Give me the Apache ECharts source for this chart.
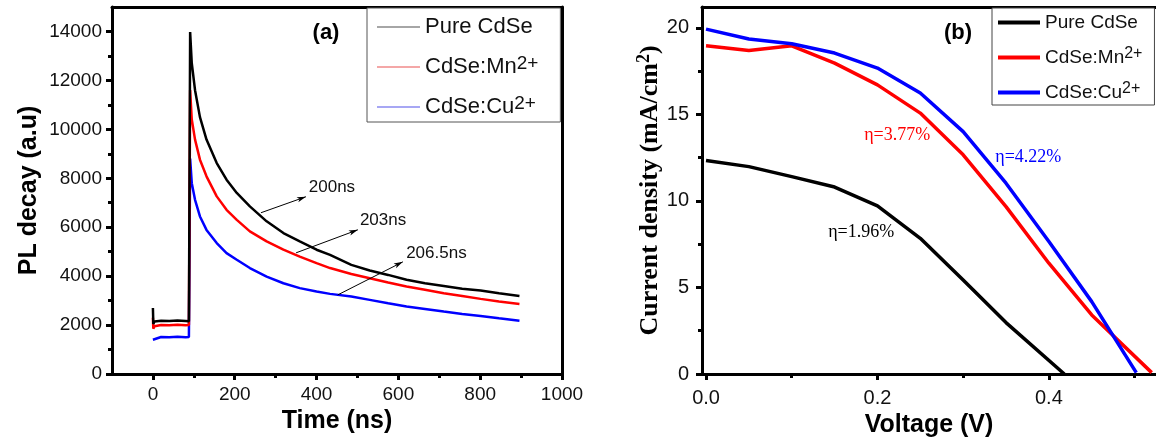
<!DOCTYPE html>
<html>
<head>
<meta charset="utf-8">
<style>
  html, body { margin: 0; background: #fff; }
  #container { width: 1156px; height: 447px; }
</style>
</head>
<body>
<div id="container"></div>
<script src="https://cdn.jsdelivr.net/npm/echarts@6/dist/echarts.min.js"></script>
<script>
// ---- (a) PL decay ----
var time   = [0, 1, 4, 20, 40, 60, 80, 88, 89, 91, 95, 103, 115, 131, 156, 180, 205, 237, 278, 319, 359, 400, 433, 485, 530, 575, 620, 665, 711, 756, 801, 846, 896];
var plPure = [2700, 2050, 2150, 2180, 2170, 2190, 2170, 2160, 2150, 13980, 12700, 11600, 10500, 9580, 8620, 7940, 7400, 6850, 6240, 5760, 5420, 5080, 4870, 4460, 4230, 4050, 3850, 3710, 3600, 3480, 3410, 3300, 3190];
var plMn   = [2300, 1850, 1950, 2000, 1990, 2010, 1990, 2000, 2000, 11600, 10400, 9580, 8760, 8080, 7260, 6710, 6300, 5830, 5420, 5080, 4800, 4530, 4330, 4090, 3915, 3740, 3575, 3440, 3300, 3190, 3070, 2960, 2865];
var plCu   = [1400, 1450, 1480, 1510, 1500, 1520, 1500, 1510, 1500, 8800, 7800, 7120, 6440, 5890, 5350, 4940, 4670, 4330, 3980, 3710, 3510, 3370, 3275, 3165, 3030, 2890, 2755, 2660, 2550, 2455, 2375, 2280, 2180];

// ---- (b) J-V curves ----
var vPure = [0, 0.05, 0.1, 0.15, 0.2, 0.25, 0.3, 0.35, 0.418];
var jPure = [12.33, 11.98, 11.4, 10.8, 9.71, 7.84, 5.43, 2.97, 0];
var vMn   = [0, 0.05, 0.1, 0.15, 0.2, 0.25, 0.3, 0.35, 0.4, 0.45, 0.52];
var jMn   = [18.96, 18.69, 18.96, 17.96, 16.7, 15.07, 12.66, 9.67, 6.4, 3.41, 0.08];
var vCu   = [0, 0.05, 0.1, 0.15, 0.2, 0.25, 0.3, 0.35, 0.4, 0.45, 0.502];
var jCu   = [19.92, 19.35, 19.08, 18.54, 17.67, 16.23, 14.0, 11.02, 7.65, 4.18, 0.08];

// ticks
var timeTicks = [0, 200, 400, 600, 800, 1000];
var timeMinor = [100, 300, 500, 700, 900];
var plTicks   = [0, 2000, 4000, 6000, 8000, 10000, 12000, 14000];
var plMinor   = [1000, 3000, 5000, 7000, 9000, 11000, 13000];
var voltTicks = [0, 0.2, 0.4];
var voltMinor = [0.1, 0.3, 0.5];
var jTicks    = [0, 5, 10, 15, 20];
var jMinor    = [2.5, 7.5, 12.5, 17.5];

// annotations (data units)
var arrows = [[[264, 6590], [374, 7245]], [[350, 4953], [501, 5894]], [[452, 3234], [611, 4584]]];
var tauNotes = [['200ns', 381, 7614], ['203ns', 506, 6263], ['206.5ns', 619, 4953]];
var etaNotes = [['η=1.96%', 0.181, 8.2, '#000'], ['η=3.77%', 0.223, 13.8, '#f00'], ['η=4.22%', 0.376, 12.5, '#00f']];

var SANS = '"Liberation Sans", Arial, sans-serif';
var SERIF = '"Liberation Serif", "Times New Roman", serif';

function zip(xs, ys) {
  return xs.map(function (x, i) { return [x, ys[i]]; });
}

function legendLabel(name) {
  var base = name.replace(' (J-V)', '');
  var m = base.match(/^(.*?)(\d\+)$/);
  return m ? '{t|' + m[1] + '}{s|' + m[2] + '}' : '{t|' + base + '}';
}

var dom = document.getElementById('container');
var myChart = echarts.init(dom, null, { renderer: 'canvas' });

function mainAxis(grid, pos, min, max, ticks, fmt, fontSize, margin, name, nameGap, nameStyle) {
  return {
    gridIndex: grid, type: 'value', position: pos, min: min, max: max,
    axisLine: { onZero: false, lineStyle: { color: '#000', width: 3 } },
    axisTick: { customValues: ticks, length: 6, lineStyle: { color: '#000', width: 3 } },
    axisLabel: { customValues: ticks, formatter: fmt, fontSize: fontSize, color: '#111', margin: margin, fontFamily: SANS },
    splitLine: { show: false },
    name: name, nameLocation: 'middle', nameGap: nameGap, nameTextStyle: nameStyle
  };
}
function minorAxis(grid, pos, min, max, ticks) {
  return {
    gridIndex: grid, type: 'value', position: pos, min: min, max: max,
    axisLine: { show: false, onZero: false },
    axisTick: { customValues: ticks, length: 4, lineStyle: { color: '#000', width: 3 } },
    axisLabel: { show: false }, splitLine: { show: false }
  };
}
function frameAxis(grid, pos, min, max) {
  return {
    gridIndex: grid, type: 'value', position: pos, min: min, max: max,
    axisLine: { onZero: false, lineStyle: { color: '#000', width: 3 } },
    axisTick: { show: false }, axisLabel: { show: false }, splitLine: { show: false }
  };
}

function plain(v) { return String(v); }
function oneDec(v) { return v.toFixed(1); }

var boldName = { fontSize: 25, fontWeight: 'bold', color: '#000', fontFamily: SANS };

var option = {
  animation: false,
  backgroundColor: '#fff',
  grid: [
    { left: 112, right: 594, top: 7, bottom: 73 },
    { left: 702, right: 0, top: 7, bottom: 73 }
  ],
  xAxis: [
    mainAxis(0, 'bottom', -100, 1000, timeTicks, plain, 19, 11, 'Time (ns)', 32, boldName),
    frameAxis(0, 'top', -100, 1000),
    minorAxis(0, 'bottom', -100, 1000, timeMinor),
    mainAxis(1, 'bottom', -0.0047, 0.525, voltTicks, oneDec, 20, 14, 'Voltage (V)', 32, boldName),
    frameAxis(1, 'top', -0.0047, 0.525),
    minorAxis(1, 'bottom', -0.0047, 0.525, voltMinor)
  ],
  yAxis: [
    mainAxis(0, 'left', 0, 15000, plTicks, plain, 19, 10, 'PL decay (a.u)', 70, boldName),
    frameAxis(0, 'right', 0, 15000),
    minorAxis(0, 'left', 0, 15000, plMinor),
    mainAxis(1, 'left', 0, 21.2, jTicks, plain, 20, 13, '{a|Current density (mA/cm}{s|2}{a|)}', 36, {
      rich: {
        a: { fontSize: 26, fontWeight: 'bold', fontFamily: SERIF, color: '#000', lineHeight: 30 },
        s: { fontSize: 18, fontWeight: 'bold', fontFamily: SERIF, color: '#000', lineHeight: 18, verticalAlign: 'top' }
      }
    }),
    minorAxis(1, 'left', 0, 21.2, jMinor)
  ],
  legend: [
    {
      left: 367, top: 8, orient: 'vertical', icon: 'rect',
      itemWidth: 43, itemHeight: 1.5, itemGap: 16,
      padding: [8, 22, 4, 10],
      borderColor: '#555', borderWidth: 1, backgroundColor: '#fff',
      data: [
        { name: 'Pure CdSe', itemStyle: { color: '#888' } },
        { name: 'CdSe:Mn2+', itemStyle: { color: '#f08a8a' } },
        { name: 'CdSe:Cu2+', itemStyle: { color: '#8a8af0' } }
      ],
      formatter: legendLabel,
      textStyle: {
        rich: {
          t: { fontSize: 22, lineHeight: 26, fontFamily: SANS, color: '#111' },
          s: { fontSize: 19, lineHeight: 12, fontFamily: SANS, color: '#111', verticalAlign: 'top' }
        }
      }
    },
    {
      left: 992, top: 8, orient: 'vertical', icon: 'rect',
      itemWidth: 42, itemHeight: 4, itemGap: 14,
      padding: [5, 12, 3, 6],
      borderColor: '#444', borderWidth: 1, backgroundColor: '#fff',
      data: [
        { name: 'Pure CdSe (J-V)', itemStyle: { color: '#000' } },
        { name: 'CdSe:Mn2+ (J-V)', itemStyle: { color: '#f00' } },
        { name: 'CdSe:Cu2+ (J-V)', itemStyle: { color: '#00f' } }
      ],
      formatter: legendLabel,
      textStyle: {
        rich: {
          t: { fontSize: 19, lineHeight: 23, fontFamily: SANS, color: '#111' },
          s: { fontSize: 16, lineHeight: 10, fontFamily: SANS, color: '#111', verticalAlign: 'top' }
        }
      }
    }
  ],
  series: [
    {
      name: 'Pure CdSe', type: 'line', xAxisIndex: 0, yAxisIndex: 0, symbol: 'none',
      data: zip(time, plPure), lineStyle: { color: '#000', width: 2.5 }, itemStyle: { color: '#000' }, z: 3,
      markLine: {
        silent: true, symbol: ['none', 'arrow'], symbolSize: [4, 9],
        label: { show: false },
        lineStyle: { color: '#000', width: 1, type: 'solid' },
        data: arrows.map(function (a) { return [{ coord: a[0] }, { coord: a[1] }]; })
      }
    },
    {
      name: 'CdSe:Mn2+', type: 'line', xAxisIndex: 0, yAxisIndex: 0, symbol: 'none',
      data: zip(time, plMn), lineStyle: { color: '#f00', width: 2.5 }, itemStyle: { color: '#f00' }, z: 2
    },
    {
      name: 'CdSe:Cu2+', type: 'line', xAxisIndex: 0, yAxisIndex: 0, symbol: 'none',
      data: zip(time, plCu), lineStyle: { color: '#00f', width: 2.5 }, itemStyle: { color: '#00f' }, z: 1
    },
    {
      name: 'Pure CdSe (J-V)', type: 'line', xAxisIndex: 3, yAxisIndex: 3, symbol: 'none',
      data: zip(vPure, jPure), lineStyle: { color: '#000', width: 3.5 }, itemStyle: { color: '#000' }
    },
    {
      name: 'CdSe:Mn2+ (J-V)', type: 'line', xAxisIndex: 3, yAxisIndex: 3, symbol: 'none',
      data: zip(vMn, jMn), lineStyle: { color: '#f00', width: 3.5 }, itemStyle: { color: '#f00' }
    },
    {
      name: 'CdSe:Cu2+ (J-V)', type: 'line', xAxisIndex: 3, yAxisIndex: 3, symbol: 'none',
      data: zip(vCu, jCu), lineStyle: { color: '#00f', width: 3.5 }, itemStyle: { color: '#00f' }
    }
  ]
};

myChart.setOption(option);

// panel letters and text notes
var graphics = [
  { type: 'text', x: 326, y: 33, style: { text: '(a)', font: 'bold 22px ' + SANS, fill: '#000', align: 'center', verticalAlign: 'middle' } },
  { type: 'text', x: 958, y: 33, style: { text: '(b)', font: 'bold 22px ' + SANS, fill: '#000', align: 'center', verticalAlign: 'middle' } }
];
tauNotes.forEach(function (n) {
  var p = myChart.convertToPixel({ seriesIndex: 0 }, [n[1], n[2]]);
  graphics.push({ type: 'text', x: p[0], y: p[1], style: { text: n[0], font: '17px ' + SANS, fill: '#111', align: 'left', verticalAlign: 'middle' } });
});
etaNotes.forEach(function (n) {
  var p = myChart.convertToPixel({ seriesIndex: 3 }, [n[1], n[2]]);
  graphics.push({ type: 'text', x: p[0], y: p[1], style: { text: n[0], font: '18px ' + SERIF, fill: n[3], align: 'center', verticalAlign: 'middle' } });
});
myChart.setOption({ graphic: graphics });

window.addEventListener('resize', myChart.resize);
</script>
</body>
</html>
